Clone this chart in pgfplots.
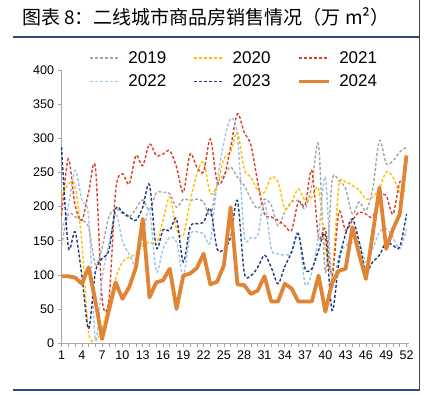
\documentclass[border=0pt]{standalone}
\usepackage{pgfplots}
\pgfplotsset{compat=1.18}
\usepackage{fontspec}
\setmainfont{Liberation Sans}
\newfontfamily\cjk{Noto Sans CJK SC}
\definecolor{cA}{HTML}{A6A6A6}
\definecolor{cB}{HTML}{FFC000}
\definecolor{cC}{HTML}{D9412B}
\definecolor{cD}{HTML}{9DC3E6}
\definecolor{cE}{HTML}{1F3A7A}
\definecolor{cF}{HTML}{E08536}
\definecolor{navy}{HTML}{2F4A7A}
\begin{document}
\begin{tikzpicture}[x=1pt,y=1pt]
\path[use as bounding box] (0,0) rectangle (426,395);
\node[anchor=west, inner sep=0, font=\cjk\fontsize{19}{22}\selectfont] at (22,378) {图表 8：二线城市商品房销售情况（万 m²）};
\draw[navy, line width=2] (13,358) -- (420,358);
\draw[black!75, line width=0.8] (419,395) -- (419,4);
\draw[navy, line width=2] (13,5) -- (420,5);
\begin{axis}[
 anchor=south west, at={(91,76)},
 scale only axis, width=347pt, height=273pt,
 xmin=1, xmax=52.3, ymin=0, ymax=400,
 axis lines*=left,
 axis line style={draw=black!35, line width=0.8pt},
 xtick={1,4,...,52}, minor xtick={1,...,52},
 ytick={0,50,...,400},
 tick align=outside, major tick length=4pt, minor tick length=4pt,
 tick style={draw=black!35, line width=0.6pt},
 ticklabel style={font=\fontsize{12.5}{14}\selectfont},
 /pgf/number format/assume math mode=true,
 legend columns=3,
 legend style={draw=none, fill=none, at={(0.07,1.084)}, anchor=north west,
   font=\fontsize{17}{19}\selectfont, row sep=6pt,
   /tikz/every odd column/.append style={column sep=6pt},
   /tikz/every even column/.append style={column sep=25pt}},
 legend image code/.code={\draw[#1] (0pt,0pt) -- (30pt,0pt);},
 clip=false,
 dl/.style={line width=1.4pt, dash pattern=on 3pt off 2pt, smooth, tension=0.5, no markers},
]
\addplot[cA, dl] coordinates {(1,143)(2,189)(3,185)(4,180)(5,170)(6,115)(7,140)(8,185)(9,197)(10,190)(11,185)(12,197)(13,210)(14,195)(15,220)(16,221)(17,219)(18,199)(19,211)(20,209)(21,211)(22,207)(23,187)(24,233)(25,246)(26,258)(27,243)(28,231)(29,211)(30,197)(31,211)(32,202)(33,172)(34,192)(35,207)(36,209)(37,197)(38,231)(39,290)(40,104)(41,238)(42,238)(43,226)(44,189)(45,207)(46,194)(47,226)(48,297)(49,263)(50,267)(51,280)(52,287)};
\addlegendentry{2019}
\addplot[cB, dl] coordinates {(1,214)(2,233)(3,230)(4,148)(5,16)(6,4)(7,20)(8,60)(9,95)(10,119)(11,126)(12,130)(13,143)(14,148)(15,145)(16,180)(17,214)(18,167)(19,158)(20,207)(21,248)(22,265)(23,219)(24,231)(25,270)(26,280)(27,309)(28,255)(29,243)(30,224)(31,221)(32,243)(33,236)(34,197)(35,207)(36,226)(37,209)(38,214)(39,226)(40,140)(41,105)(42,231)(43,236)(44,231)(45,224)(46,211)(47,214)(48,226)(49,251)(50,243)(51,221)(52,225)};
\addlegendentry{2020}
\addplot[cC, dl] coordinates {(1,187)(2,270)(3,202)(4,180)(5,221)(6,258)(7,65)(8,63)(9,224)(10,248)(11,233)(12,275)(13,260)(14,292)(15,275)(16,277)(17,282)(18,258)(19,221)(20,277)(21,258)(22,251)(23,299)(24,236)(25,243)(26,287)(27,336)(28,309)(29,290)(30,236)(31,189)(32,185)(33,180)(34,172)(35,165)(36,207)(37,202)(38,253)(39,155)(40,167)(41,99)(42,192)(43,165)(44,180)(45,192)(46,189)(47,185)(48,214)(49,216)(50,189)(51,236)(52,240)};
\addlegendentry{2021}
\addplot[cD, dl] coordinates {(1,165)(2,200)(3,253)(4,210)(5,185)(6,5)(7,95)(8,145)(9,190)(10,150)(11,130)(12,115)(13,155)(14,195)(15,105)(16,138)(17,155)(18,148)(19,99)(20,158)(21,163)(22,160)(23,148)(24,236)(25,294)(26,329)(27,305)(28,158)(29,155)(30,158)(31,207)(32,138)(33,131)(34,129)(35,133)(36,163)(37,87)(38,104)(39,158)(40,243)(41,85)(42,129)(43,143)(44,148)(45,148)(46,119)(47,138)(48,163)(49,167)(50,155)(51,138)(52,167)};
\addlegendentry{2022}
\addplot[cE, dl] coordinates {(1,287)(2,141)(3,163)(4,99)(5,21)(6,104)(7,124)(8,136)(9,197)(10,192)(11,185)(12,180)(13,199)(14,232)(15,140)(16,166)(17,165)(18,182)(19,119)(20,170)(21,175)(22,177)(23,197)(24,138)(25,138)(26,155)(27,209)(28,104)(29,99)(30,111)(31,129)(32,111)(33,87)(34,112)(35,133)(36,160)(37,109)(38,109)(39,136)(40,158)(41,48)(42,119)(43,160)(44,182)(45,148)(46,106)(47,119)(48,129)(49,148)(50,143)(51,141)(52,189)};
\addlegendentry{2023}
\addplot[cF, line width=3.8pt, no markers, line join=round] coordinates {(1,98)(2,98)(3,96)(4,87)(5,111)(6,62)(7,6)(8,48)(9,89)(10,65)(11,82)(12,111)(13,182)(14,67)(15,89)(16,92)(17,109)(18,50)(19,99)(20,102)(21,110)(22,131)(23,86)(24,90)(25,114)(26,199)(27,86)(28,85)(29,72)(30,77)(31,98)(32,61)(33,61)(34,87)(35,80)(36,61)(37,61)(38,61)(39,99)(40,46)(41,89)(42,106)(43,109)(44,170)(45,130)(46,94)(47,160)(48,228)(49,138)(50,167)(51,189)(52,275)};
\addlegendentry{2024}
\end{axis}
\end{tikzpicture}
\end{document}
